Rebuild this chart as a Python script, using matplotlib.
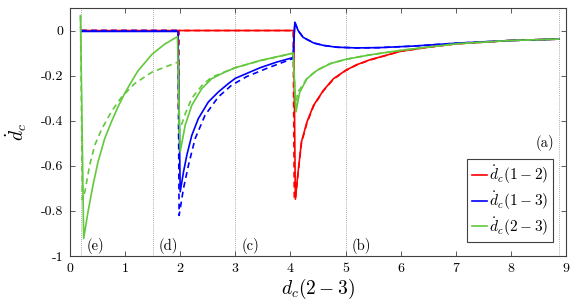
import matplotlib
matplotlib.use("Agg")
import matplotlib.pyplot as plt

plt.rcParams['font.family'] = 'cmr10'
plt.rcParams['mathtext.fontset'] = 'cm'
plt.rcParams['axes.unicode_minus'] = False
plt.rcParams['axes.formatter.use_mathtext'] = True

# ---- data ----
red_x = [0.2, 1.97, 1.98, 4.06, 4.09, 4.14, 4.20, 4.30, 4.42, 4.60, 4.78, 5.0, 5.20, 5.44, 6.0, 6.5, 7.0, 8.0, 8.87]
red_y = [0.0, 0.0, 0.0, 0.0, -0.748, -0.627, -0.494, -0.406, -0.332, -0.265, -0.214, -0.177, -0.152, -0.13, -0.092, -0.074, -0.059, -0.044, -0.038]

red_d_x = [0.2, 1.96, 1.97, 1.98, 4.05, 4.07, 4.09, 4.14, 4.20, 4.30, 4.42, 4.60, 4.78, 5.0, 5.20, 5.44, 6.0, 6.5, 7.0, 8.0, 8.87]
red_d_y = [0.0, 0.0, -0.35, 0.0, 0.0, -0.74, -0.75, -0.632, -0.50, -0.41, -0.335, -0.267, -0.216, -0.178, -0.153, -0.131, -0.092, -0.074, -0.059, -0.044, -0.038]

blue_x = [0.2, 1.96, 2.0, 2.06, 2.12, 2.21, 2.33, 2.51, 2.69, 2.87, 3.0, 3.45, 3.75, 4.05, 4.08, 4.14, 4.23, 4.42, 4.60, 4.84, 5.2, 5.6, 6.23, 7.02, 8.02, 8.87]
blue_y = [-0.004, -0.004, -0.715, -0.627, -0.553, -0.465, -0.39, -0.317, -0.273, -0.236, -0.212, -0.165, -0.14, -0.12, 0.037, 0.0, -0.03, -0.055, -0.066, -0.074, -0.077, -0.076, -0.069, -0.056, -0.044, -0.038]

blue_d_x = [0.2, 1.96, 1.98, 2.06, 2.15, 2.27, 2.45, 2.69, 2.93, 3.2, 3.6, 4.05, 4.08, 4.14, 4.23, 4.42, 4.60, 4.84, 5.2, 5.6, 6.23, 7.02, 8.02, 8.87]
blue_d_y = [0.0, 0.0, -0.82, -0.70, -0.597, -0.48, -0.376, -0.295, -0.243, -0.205, -0.165, -0.124, 0.037, 0.0, -0.03, -0.055, -0.066, -0.074, -0.077, -0.076, -0.069, -0.056, -0.044, -0.038]

green_x = [0.19, 0.248, 0.327, 0.417, 0.508, 0.63, 0.75, 0.87, 0.99, 1.11, 1.23, 1.49, 1.72, 1.95, 2.0, 2.09, 2.21, 2.39, 2.57, 2.81, 3.0, 3.45, 4.05, 4.10, 4.17, 4.30, 4.48, 4.72, 5.0, 5.44, 6.0, 7.0, 8.0, 8.87]
green_y = [0.066, -0.922, -0.804, -0.686, -0.583, -0.479, -0.406, -0.339, -0.28, -0.229, -0.18, -0.105, -0.06, -0.027, -0.538, -0.42, -0.332, -0.258, -0.214, -0.184, -0.165, -0.133, -0.10, -0.361, -0.273, -0.214, -0.177, -0.147, -0.128, -0.108, -0.088, -0.059, -0.044, -0.038]

green_d_x = [0.19, 0.225, 0.27, 0.357, 0.448, 0.57, 0.75, 0.93, 1.17, 1.49, 1.96, 1.98, 2.09, 2.21, 2.39, 2.57, 3.0, 3.45, 4.05, 4.10, 4.13, 4.17, 4.30, 4.48, 4.72, 5.0, 5.44, 6.0, 7.0, 8.0, 8.87]
green_d_y = [0.066, -0.75, -0.715, -0.597, -0.509, -0.44, -0.36, -0.297, -0.236, -0.184, -0.14, -0.45, -0.37, -0.30, -0.245, -0.207, -0.165, -0.134, -0.101, -0.355, -0.27, -0.262, -0.212, -0.176, -0.147, -0.128, -0.108, -0.088, -0.059, -0.044, -0.038]

region_lines = [0.2, 1.5, 3.0, 5.0, 8.87]
region_labels = ['(e)', '(d)', '(c)', '(b)']
region_label_x = [0.31, 1.61, 3.11, 5.11]

xticks = [0, 1, 2, 3, 4, 5, 6, 7, 8, 9]
xtick_labels = ['0', '1', '2', '3', '4', '5', '6', '7', '8', '9']
yticks = [-1, -0.8, -0.6, -0.4, -0.2, 0]
ytick_labels = ['-1', '-0.8', '-0.6', '-0.4', '-0.2', '0']

legend_labels = [r'$\dot{d}_c(1-2)$', r'$\dot{d}_c(1-3)$', r'$\dot{d}_c(2-3)$']

RED = '#ff0000'
BLUE = '#0000ff'
GREEN = '#62c83c'

fig = plt.figure(figsize=(5.81, 3.05), dpi=100)
ax = fig.add_axes([0.1205, 0.1607, 0.8535, 0.8131])

for xv in region_lines:
    ax.axvline(xv, color='#909090', lw=0.6, ls=(0, (1, 1.5)), zorder=1)

lw = 1.2
dash = (0, (3.5, 2.5))
l1, = ax.plot(red_x, red_y, color=RED, lw=lw, zorder=3)
ax.plot(red_d_x, red_d_y, color=RED, lw=lw, ls=dash, zorder=3)
l2, = ax.plot(blue_x, blue_y, color=BLUE, lw=lw, zorder=4)
ax.plot(blue_d_x, blue_d_y, color=BLUE, lw=lw, ls=dash, zorder=4)
l3, = ax.plot(green_x, green_y, color=GREEN, lw=lw, zorder=5)
ax.plot(green_d_x, green_d_y, color=GREEN, lw=lw, ls=dash, zorder=5)

ax.set_xlim(0, 9)
ax.set_ylim(-1, 0.1)
ax.set_xticks(xticks)
ax.set_xticklabels(xtick_labels)
ax.set_yticks(yticks)
ax.set_yticklabels(ytick_labels)
ax.tick_params(direction='in', top=True, right=True, length=3.5, width=0.6,
               labelsize=10, color='#404040', pad=5)
for s in ax.spines.values():
    s.set_color('#404040')
    s.set_linewidth(0.8)

for lab, xl in zip(region_labels, region_label_x):
    ax.text(xl, -0.956, lab, fontsize=10.5, ha='left', va='center', zorder=6)
ax.text(8.78, -0.5, '(a)', fontsize=10.5, ha='right', va='center', zorder=6)

ax.set_xlabel(r'$d_c(2-3)$', fontsize=14, labelpad=1)
ax.set_ylabel(r'$\dot{d}_c$', fontsize=14, labelpad=8)

leg = ax.legend([l1, l2, l3], legend_labels, loc='lower right',
                bbox_to_anchor=(0.974, 0.055), borderaxespad=0, fontsize=11,
                handlelength=1.0, handletextpad=0.15, labelspacing=0.2,
                borderpad=0.3, fancybox=False, framealpha=1)
leg.get_frame().set_edgecolor('#404040')
leg.get_frame().set_linewidth(0.8)

fig.savefig('out.png', dpi=100)
